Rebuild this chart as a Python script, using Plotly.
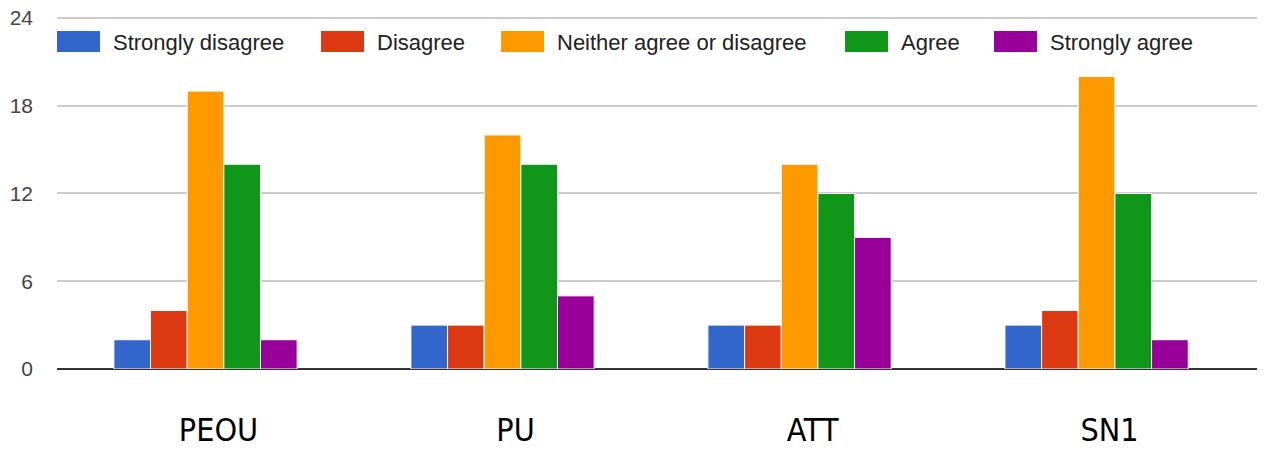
import plotly.graph_objects as go

categories = ["PEOU", "PU", "ATT", "SN1"]
series_names = ["Strongly disagree", "Disagree", "Neither agree or disagree", "Agree", "Strongly agree"]
strongly_disagree = [2, 3, 3, 3]
disagree = [4, 3, 3, 4]
neither = [19, 16, 14, 20]
agree = [14, 14, 12, 12]
strongly_agree = [2, 5, 9, 2]
y_ticks = [0, 6, 12, 18, 24]

colors = ["#3366cc", "#dc3912", "#ff9900", "#109618", "#990099"]
values = [strongly_disagree, disagree, neither, agree, strongly_agree]

# page body has an 8px margin; figure sized to fit the window exactly
OFF = 8
W, H = 1265 - OFF, 450 - OFF
# targets given in window pixels
PLOT_L, PLOT_R, PLOT_T, PLOT_B = 57, 1265, 15, 369
ML, MR, MT, MB = PLOT_L - OFF, 0, PLOT_T - OFF, H - (PLOT_B - OFF)
PW, PH = W - ML - MR, H - MT - MB

def px_x(px):
    return (px - PLOT_L) / PW

def px_y(py):
    return (PLOT_B - py) / PH

fig = go.Figure()
for name, vals, col in zip(series_names, values, colors):
    fig.add_trace(go.Bar(
        x=categories, y=vals, name=name,
        marker=dict(color=col, line=dict(color="white", width=1)),
        showlegend=False,
    ))

# custom legend (swatches + labels) placed like the reference
swatch_left = [57, 321, 501, 845, 994]
for name, col, sx in zip(series_names, colors, swatch_left):
    fig.add_shape(type="rect", xref="paper", yref="paper",
                  x0=px_x(sx), x1=px_x(sx + 43), y0=px_y(52), y1=px_y(31),
                  fillcolor=col, line=dict(width=0), layer="above")
    fig.add_annotation(xref="paper", yref="paper", x=px_x(sx + 54), y=px_y(42),
                       xanchor="left", yanchor="middle", text=name, showarrow=False,
                       font=dict(family="Liberation Sans, Arial, sans-serif", size=22, color="#222"))

fig.update_layout(
    width=W, height=H,
    margin=dict(l=ML, r=MR, t=MT, b=MB, autoexpand=False),
    paper_bgcolor="white", plot_bgcolor="white",
    barmode="group", bargap=0.383, bargroupgap=0,
    showlegend=False,
    xaxis=dict(range=[-0.5, 3.567], showgrid=False, showline=False, ticks="", automargin=False,
               tickfont=dict(family="DejaVu Sans Condensed, DejaVu Sans, sans-serif", size=32, color="#000"),
               ticklabelstandoff=39, ticklabelshift=13),
    yaxis=dict(range=[0, 24.2], tickvals=y_ticks, showgrid=True, gridcolor="#cccccc", gridwidth=1.5,
               zeroline=True, zerolinecolor="#333333", zerolinewidth=2,
               showline=False, ticks="", automargin=False, ticklabeloverflow="allow",
               tickfont=dict(family="Liberation Sans, Arial, sans-serif", size=21, color="#444"),
               ticklabelstandoff=23),
)

fig.write_html("out.html")
